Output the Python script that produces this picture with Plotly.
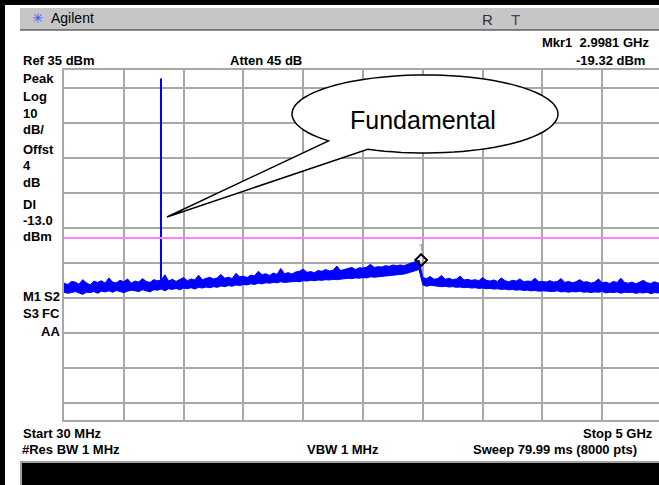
import numpy as np
import plotly.graph_objects as go

# instrument settings shown on screen
start_mhz = 30
stop_mhz = 5000
ref_dbm = 35
db_per_div = 10
display_line_dbm = -13.0
marker_mhz = 2998.1
marker_dbm = -19.32
fund_mhz = 836
fund_dbm = 32.6

# noise band of the trace (dBm): top and bottom edge
upper_dbm = [
    -25.9, -26.3, -25.4, -25.6, -26.2, -24.9, -25.8, -26.4, -25.3, -25.7,
    -25.2, -25.9, -24.4, -25.6, -25.8, -25.1, -25.5, -24.7, -25.9, -25.3,
    -25.6, -24.6, -25.4, -25.7, -24.9, -25.2,
    -25.1, -23.5, -25.3, -24.8,
    -25.4, -24.9, -24.3, -25.2, -24.7, -25.0, -23.6, -24.9, -24.6, -24.2,
    -24.7, -24.4, -23.4, -24.5, -24.2, -24.6, -23.1, -24.1, -23.9, -24.3,
    -23.6, -23.8, -22.5, -23.5, -23.2, -23.7, -23.0, -23.4, -21.7, -23.2,
    -22.9, -23.3, -22.7, -22.5, -21.9, -22.8, -22.6, -22.9, -22.3, -22.5,
    -22.0, -22.4, -22.2, -21.0, -22.3, -21.9, -21.7, -21.4, -22.0, -21.5,
    -21.6, -21.3, -20.5, -21.4, -21.2, -21.3, -20.9, -21.1, -20.7, -20.9,
    -20.7, -20.9, -20.4, -20.1, -19.8, -19.3,
    -24.3, -24.6, -24.0, -24.8,
    -24.6, -23.7, -24.8, -24.5, -24.9, -24.7, -23.9, -25.0, -24.8, -25.1,
    -24.9, -25.2, -24.3, -25.1, -25.3, -25.0, -25.4, -24.4, -25.2, -25.5,
    -25.1, -25.3, -24.7, -25.5, -25.3, -25.4, -24.5, -25.5, -25.4, -25.6,
    -25.2, -25.6, -25.4, -24.6, -25.7, -25.4, -25.8, -25.5, -24.9, -25.6,
    -25.5, -25.9, -25.6, -24.7, -25.8, -25.6, -26.0, -25.4, -25.7, -24.5,
    -25.7, -25.9, -25.6, -26.1, -25.6, -25.1, -25.8, -26.0, -25.5, -25.9, -25.7,
]
lower_dbm = [
    -28.5, -28.8, -28.6, -28.3, -28.7, -29.1, -28.5, -28.6, -28.3, -28.8,
    -28.2, -28.4, -28.1, -28.5, -28.0, -28.3, -28.6, -28.2, -27.9, -28.1,
    -28.3, -27.8, -28.0, -28.4, -27.8, -27.9,
    -27.6, -28.1, -27.5, -27.7,
    -27.4, -27.8, -27.3, -27.5, -27.2, -27.6, -27.1, -27.3, -27.0, -27.2,
    -26.9, -27.1, -26.7, -26.9, -26.6, -26.8, -26.4, -26.6, -26.3, -26.4,
    -26.1, -26.3, -25.9, -26.1, -25.8, -25.9, -25.7, -25.8, -25.5, -25.7,
    -25.6, -25.6, -25.4, -25.5, -25.2, -25.3, -25.1, -25.2, -25.0, -25.1,
    -24.9, -25.0, -24.8, -24.9, -24.7, -24.7, -24.5, -24.6, -24.4, -24.5,
    -24.3, -24.4, -24.1, -24.2, -24.0, -24.0, -23.8, -23.9, -23.6, -23.7,
    -23.4, -23.3, -23.0, -22.8, -22.4, -22.0,
    -26.4, -26.8, -26.5, -26.7,
    -26.7, -26.9, -26.8, -27.0, -26.9, -27.1, -27.0, -27.2, -27.1, -27.3,
    -27.2, -27.4, -27.3, -27.5, -27.4, -27.6, -27.5, -27.7, -27.6, -27.8,
    -27.7, -27.9, -27.8, -28.0, -27.9, -28.1, -28.0, -28.2, -28.1, -28.3,
    -28.2, -28.3, -28.1, -28.4, -28.3, -28.5, -28.3, -28.4, -28.2, -28.5,
    -28.4, -28.6, -28.4, -28.5, -28.3, -28.7, -28.5, -28.6, -28.4, -28.8,
    -28.5, -28.6, -28.5, -28.8, -28.6, -28.7, -28.5, -28.9, -28.6, -28.7, -28.7,
]
assert len(upper_dbm) == len(lower_dbm)
freq_mhz = list(np.linspace(start_mhz, stop_mhz, len(upper_dbm)))

W, H = 659, 485
L, R, T, B = 64, 0, 70, 65
PW, PH = W - L - R, H - T - B


def px(x):
    return (x - L) / PW


def py(y):
    return (H - B - y) / PH


span = stop_mhz - start_mhz
x_max = start_mhz + span * PW / 598  # right edge of the screen is cut off

fig = go.Figure()
fig.add_trace(go.Scatter(x=freq_mhz + freq_mhz[::-1], y=upper_dbm + lower_dbm[::-1],
                         mode="lines", fill="toself", fillcolor="#0000ff",
                         line=dict(color="#0000ff", width=1), hoverinfo="skip"))
fig.add_trace(go.Scatter(x=[fund_mhz, fund_mhz], y=[-26.0, fund_dbm], mode="lines",
                         line=dict(color="#0000ff", width=2), hoverinfo="skip"))
fig.add_trace(go.Scatter(x=[marker_mhz], y=[marker_dbm], mode="markers+text",
                         marker=dict(symbol="diamond-open", size=9, color="black",
                                     line=dict(width=2, color="black")),
                         text=["1"], textposition="top center",
                         textfont=dict(size=9, color="#2a9a9a")))

grid = "#a8a8a8"
fig.update_xaxes(range=[start_mhz, x_max], tick0=start_mhz, dtick=span / 10,
                 showgrid=True, gridcolor=grid, gridwidth=2, zeroline=False,
                 showticklabels=False, ticks="", showline=True, linecolor=grid,
                 linewidth=2, mirror=True)
fig.update_yaxes(range=[ref_dbm - 10 * db_per_div, ref_dbm], dtick=db_per_div,
                 showgrid=True, gridcolor=grid, gridwidth=2, zeroline=False,
                 showticklabels=False, ticks="", showline=True, linecolor=grid,
                 linewidth=2, mirror=False)

shapes = []
# display line
shapes.append(dict(type="line", xref="paper", yref="y", x0=0, x1=1,
                   y0=display_line_dbm, y1=display_line_dbm,
                   line=dict(color="#ff80ff", width=2)))
# window chrome
shapes.append(dict(type="rect", xref="paper", yref="paper", x0=px(0), x1=px(5),
                   y0=py(485), y1=py(0), fillcolor="black", line_width=0))
shapes.append(dict(type="rect", xref="paper", yref="paper", x0=px(0), x1=px(659),
                   y0=py(5), y1=py(0), fillcolor="black", line_width=0))
shapes.append(dict(type="rect", xref="paper", yref="paper", x0=px(20), x1=px(659),
                   y0=py(30), y1=py(8), fillcolor="#c6c6c6", line_width=0))
shapes.append(dict(type="line", xref="paper", yref="paper", x0=px(20), x1=px(659),
                   y0=py(30), y1=py(30), line=dict(color="#202020", width=1)))
shapes.append(dict(type="rect", xref="paper", yref="paper", x0=px(21), x1=px(662),
                   y0=py(488), y1=py(462), fillcolor="black",
                   line=dict(color="#a0a0a0", width=2)))

# callout balloon
cx, cy, rx, ry = 425, 114, 133, 39
t = np.radians(np.linspace(136.5, 475.5, 90))
pts = [(cx + rx * np.cos(a), cy + ry * np.sin(a)) for a in t]
pts.append((167, 217))
path = "M " + " L ".join(f"{px(x):.4f},{py(y):.4f}" for x, y in pts) + " Z"
shapes.append(dict(type="path", xref="paper", yref="paper", path=path,
                   fillcolor="white", line=dict(color="black", width=1.5)))

annotations = []
FONT = "Liberation Sans, Arial, sans-serif"


def label(text, x, y, anchor="left", size=13, bold=True, color="black"):
    annotations.append(dict(
        text=f"<b>{text}</b>" if bold else text, xref="paper", yref="paper",
        x=px(x), y=py(y), xanchor=anchor, yanchor="middle", showarrow=False,
        font=dict(family=FONT, size=size, color=color)))


label("Ref 35 dBm", 21, 61)
label("Atten 45 dB", 228, 61)
label("Mkr1  2.9981 GHz", 651, 43, "right")
label("-19.32 dBm", 647, 61, "right")
for text, y in [("Peak", 78), ("Log", 96), ("10", 113), ("dB/", 130),
                ("Offst", 149), ("4", 165), ("dB", 182), ("Dl", 204),
                ("-13.0", 221), ("dBm", 237)]:
    label(text, 21, y)
label("M1", 21, 296)
label("S2", 62, 296, "right")
label("S3", 21, 313)
label("FC", 62, 313, "right")
label("AA", 62, 331, "right")
label("Start 30 MHz", 21, 433)
label("Stop 5 GHz", 655, 433, "right")
label("#Res BW 1 MHz", 20, 450)
label("VBW 1 MHz", 305, 450)
label("Sweep 79.99 ms (8000 pts)", 639, 450, "right")
label("✳", 30, 18, size=14, bold=False, color="#5050ff")
label("Agilent", 49, 18, size=14, bold=False)
label("R", 487, 19, "center", size=15, bold=False, color="#303030")
label("T", 515, 19, "center", size=15, bold=False, color="#603070")
label("Fundamental", 423, 120, "center", size=25, bold=False)

fig.update_layout(width=W, height=H, margin=dict(l=L, r=R, t=T, b=B),
                  paper_bgcolor="white", plot_bgcolor="white", showlegend=False,
                  shapes=shapes, annotations=annotations)

fig.write_html("out.html", config={"displayModeBar": False},
               post_script="document.body.style.margin='0';")
